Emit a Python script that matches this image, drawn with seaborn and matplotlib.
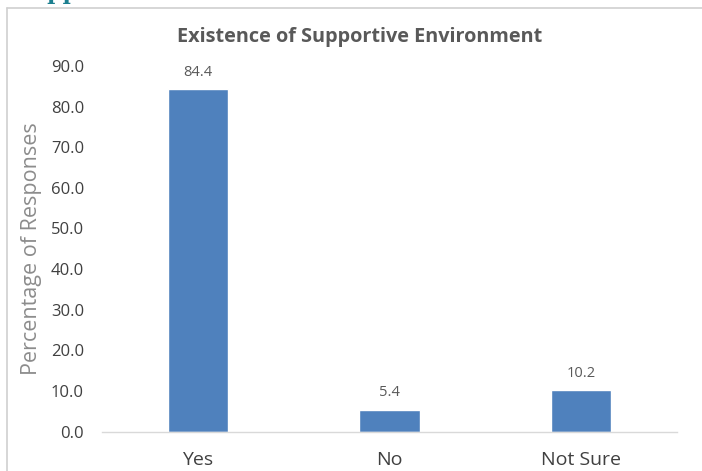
import matplotlib
matplotlib.use("Agg")
import matplotlib.pyplot as plt
from matplotlib.lines import Line2D
import seaborn as sns
import pandas as pd

categories = ["Yes", "No", "Not Sure"]
percentages = [84.4, 5.4, 10.2]
y_ticks = [0, 10, 20, 30, 40, 50, 60, 70, 80, 90]

sns.set_theme(style="white")
plt.rcParams["font.family"] = ["Open Sans", "DejaVu Sans"]

df = pd.DataFrame({"Response": categories, "Percent": percentages})

fig = plt.figure(figsize=(7.02, 4.71), dpi=100)
ax = fig.add_axes([102 / 702, 1 - 431.5 / 471, 575 / 702, 365.5 / 471])

sns.barplot(data=df, x="Response", y="Percent", color="#4F81BD",
            saturation=1, width=0.314, ax=ax)

for patch, val in zip(ax.patches, percentages):
    ax.text(patch.get_x() + patch.get_width() / 2, val + 4.1, f"{val:.1f}",
            ha="center", va="center", fontsize=10.5, color="#595959")

ax.set_ylim(0, 90)
ax.set_xlim(-0.5, 2.5)
ax.set_yticks(y_ticks)
ax.set_yticklabels([f"{t:.1f}" for t in y_ticks], fontsize=12, color="#404040")
ax.tick_params(axis="x", labelsize=14, labelcolor="#404040", pad=14, length=0)
ax.tick_params(axis="y", length=0, pad=13)
ax.set_xlabel("")
ax.set_ylabel("Percentage of Responses", fontsize=15.5, color="#8C8C8C")
ax.yaxis.set_label_coords(-60 / 575, 0.5)

for side in ["top", "right", "left"]:
    ax.spines[side].set_visible(False)
ax.spines["bottom"].set_color("#D9D9D9")
ax.spines["bottom"].set_linewidth(1.0)

fig.text(360 / 702, 1 - 37 / 471, "Existence of Supportive Environment",
         ha="center", va="center", fontsize=14.3, fontweight="bold",
         color="#595959")

# chart frame
fig.add_artist(Line2D([7 / 702, 7 / 702], [0, 1 - 8 / 471],
                      transform=fig.transFigure, color="#D0D0D0", lw=1.2))
fig.add_artist(Line2D([7 / 702, 1], [1 - 8 / 471, 1 - 8 / 471],
                      transform=fig.transFigure, color="#D0D0D0", lw=1.2))

# heading above the chart
fig.text(32 / 702, 1 + 1 / 471, "upp", ha="left", va="baseline",
         fontsize=16, fontweight="bold", color="#1B7F8F",
         family=["DejaVu Serif"])

fig.savefig("out.png", dpi=100)
